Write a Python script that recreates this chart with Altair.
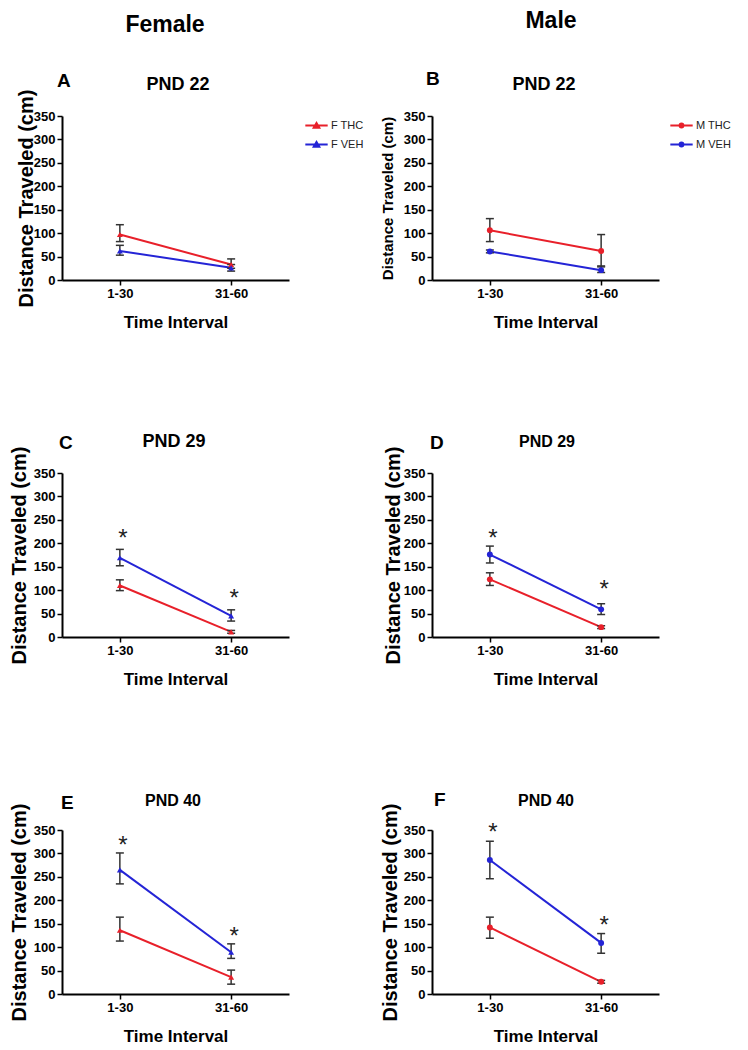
import altair as alt
import pandas as pd

intervals = ["1-30", "31-60"]
y_ticks = [0, 50, 100, 150, 200, 250, 300, 350]

# Panel A - Female, PND 22
a_thc = [97, 33]
a_thc_lo = [82, 25]
a_thc_hi = [118, 45]
a_veh = [62, 26]
a_veh_lo = [53, 19]
a_veh_hi = [74, 33]

# Panel B - Male, PND 22
b_thc = [106, 62]
b_thc_lo = [82, 28]
b_thc_hi = [131, 97]
b_veh = [61, 21]
b_veh_lo = [58, 16]
b_veh_hi = [64, 30]

# Panel C - Female, PND 29
c_thc = [110, 11]
c_thc_lo = [99, 8]
c_thc_hi = [122, 14]
c_veh = [169, 45]
c_veh_lo = [152, 34]
c_veh_hi = [187, 58]
c_star = [225, 97]

# Panel D - Male, PND 29
d_thc = [123, 21]
d_thc_lo = [110, 18]
d_thc_hi = [137, 24]
d_veh = [176, 59]
d_veh_lo = [158, 48]
d_veh_hi = [194, 71]
d_star = [224, 115]

# Panel E - Female, PND 40
e_thc = [136, 36]
e_thc_lo = [113, 21]
e_thc_hi = [164, 51]
e_veh = [265, 89]
e_veh_lo = [235, 76]
e_veh_hi = [301, 107]
e_star = [331, 137]

# Panel F - Male, PND 40
f_thc = [142, 26]
f_thc_lo = [119, 23]
f_thc_hi = [164, 29]
f_veh = [286, 109]
f_veh_lo = [246, 87]
f_veh_hi = [326, 129]
f_star = [358, 161]

RED = "#e8202a"
BLUE = "#2424d6"
ERR = "#333333"
FONT = "Liberation Sans"
W, H = 227, 164

LEG_PATH = "M-1,0H1M-0.25,0.2L0,-0.23L0.25,0.2Z"
LEG_PATH_M = "M-1,0H1M0.17,0A0.17,0.17,0,1,1,-0.17,0A0.17,0.17,0,1,1,0.17,0Z"


def make_panel(letter, title, sex, thc, thc_lo, thc_hi, veh, veh_lo, veh_hi,
               star_y, ytitle, ytitle_size, ytitle_x, letter_xy, title_xy,
               title_size, legend_x=None, header=None):
    labels = [sex + " THC", sex + " VEH"]
    df = pd.DataFrame({
        "interval": intervals * 2,
        "series": [labels[0]] * 2 + [labels[1]] * 2,
        "mean": thc + veh,
        "lo": thc_lo + veh_lo,
        "hi": thc_hi + veh_hi,
    })
    base = alt.Chart(df)
    x = alt.X("interval:N", sort=intervals,
              scale=alt.Scale(type="point", domain=intervals, padding=0.52),
              axis=alt.Axis(title="Time Interval", labelAngle=0, titleY=42,
                            titleBaseline="middle"))
    yscale = alt.Scale(domain=[0, 350], nice=False)
    yaxis = alt.Axis(title=ytitle, values=y_ticks, titleX=ytitle_x, titleY=H / 2,
                     titleFontSize=ytitle_size, titleBaseline="bottom",
                     titleAlign="center")
    if legend_x is not None:
        legend = alt.Legend(title=None, orient="none", legendX=legend_x, legendY=-3,
                            symbolType=LEG_PATH if sex == "F" else LEG_PATH_M,
                            symbolSize=500, symbolStrokeWidth=2,
                            labelFont=FONT, labelFontSize=11, labelColor="#222",
                            labelOffset=2, rowPadding=-3, padding=0)
    else:
        legend = None
    color = alt.Color("series:N", scale=alt.Scale(domain=labels, range=[RED, BLUE]),
                      legend=legend)
    shape = "triangle-up" if sex == "F" else "circle"

    lines = base.mark_line(strokeWidth=2).encode(
        x=x, y=alt.Y("mean:Q", scale=yscale, axis=yaxis), color=color)
    rules = base.mark_rule(color=ERR, strokeWidth=1.5).encode(
        x=x, y=alt.Y("lo:Q", scale=yscale, axis=yaxis), y2="hi:Q")
    caps_lo = base.mark_tick(color=ERR, thickness=1.5, size=8, opacity=1).encode(
        x=x, y=alt.Y("lo:Q", scale=yscale, axis=yaxis))
    caps_hi = base.mark_tick(color=ERR, thickness=1.5, size=8, opacity=1).encode(
        x=x, y=alt.Y("hi:Q", scale=yscale, axis=yaxis))
    points = base.mark_point(filled=True, shape=shape, size=35, opacity=1).encode(
        x=x, y=alt.Y("mean:Q", scale=yscale, axis=yaxis), color=color)

    layers = [lines, rules, caps_lo, caps_hi, points]

    if star_y:
        sdf = pd.DataFrame({"interval": intervals, "yv": star_y, "t": ["*", "*"]})
        stars = alt.Chart(sdf).mark_text(fontSize=24, font=FONT, dx=3, dy=7,
                                         baseline="middle", color="#222").encode(
            x=x, y=alt.Y("yv:Q", scale=yscale, axis=yaxis), text="t:N")
        layers.append(stars)

    letter_layer = alt.Chart(pd.DataFrame({"t": [letter]})).mark_text(
        align="left", baseline="middle", fontSize=19, fontWeight="bold", font=FONT,
        color="black").encode(x=alt.value(letter_xy[0]), y=alt.value(letter_xy[1]),
                              text="t:N")
    title_layer = alt.Chart(pd.DataFrame({"t": [title]})).mark_text(
        align="center", baseline="middle", fontSize=title_size, fontWeight="bold",
        font=FONT, color="black").encode(x=alt.value(title_xy[0]),
                                         y=alt.value(title_xy[1]), text="t:N")
    layers += [letter_layer, title_layer]
    if header is not None:
        header_layer = alt.Chart(pd.DataFrame({"t": [header[0]]})).mark_text(
            align="center", baseline="middle", fontSize=23, fontWeight="bold",
            font=FONT, color="black").encode(x=alt.value(header[1]),
                                             y=alt.value(header[2]), text="t:N")
        layers.append(header_layer)
    return alt.layer(*layers).properties(width=W, height=H)


pA = make_panel("A", "PND 22", "F", a_thc, a_thc_lo, a_thc_hi, a_veh, a_veh_lo, a_veh_hi,
                None, "Distance  Traveled (cm)", 20, -26, (-5, -35), (116, -31), 18,
                legend_x=242, header=("Female", 103, -91))
pB = make_panel("B", "PND 22", "M", b_thc, b_thc_lo, b_thc_hi, b_veh, b_veh_lo, b_veh_hi,
                None, "Distance Traveled (cm)", 15, -37, (-6, -37), (112, -31), 18,
                legend_x=237, header=("Male", 119, -95))
pC = make_panel("C", "PND 29", "F", c_thc, c_thc_lo, c_thc_hi, c_veh, c_veh_lo, c_veh_hi,
                c_star, "Distance Traveled  (cm)", 20, -33, (-3, -30), (112, -31), 18)
pD = make_panel("D", "PND 29", "M", d_thc, d_thc_lo, d_thc_hi, d_veh, d_veh_lo, d_veh_hi,
                d_star, "Distance Traveled  (cm)", 20, -29, (-2, -30), (115, -31), 16)
pE = make_panel("E", "PND 40", "F", e_thc, e_thc_lo, e_thc_hi, e_veh, e_veh_lo, e_veh_hi,
                e_star, "Distance  Traveled  (cm)", 20, -33, (-1, -27), (111, -29), 16)
pF = make_panel("F", "PND 40", "M", f_thc, f_thc_lo, f_thc_hi, f_veh, f_veh_lo, f_veh_hi,
                f_star, "Distance Traveled (cm)", 20, -32, (2, -30), (114, -29), 16)

chart = alt.concat(pA, pB, pC, pD, pE, pF, columns=2,
                   spacing={"row": 193, "column": 143}, bounds="flush").resolve_scale(
    color="independent").resolve_legend(color="independent").properties(
    padding={"left": 0, "top": 2, "right": 5, "bottom": 5}
).configure_axis(
    domainColor="black", domainWidth=2, tickColor="black", tickWidth=1.5, tickSize=5,
    labelFont=FONT, labelFontSize=13, labelFontWeight="bold", labelColor="black",
    labelPadding=2, titleFont=FONT, titleFontWeight="bold", titleColor="black",
    grid=False
).configure_axisX(titleFontSize=17).configure_view(stroke=None)

chart.save("out.html", embed_options={"renderer": "svg", "actions": False})
